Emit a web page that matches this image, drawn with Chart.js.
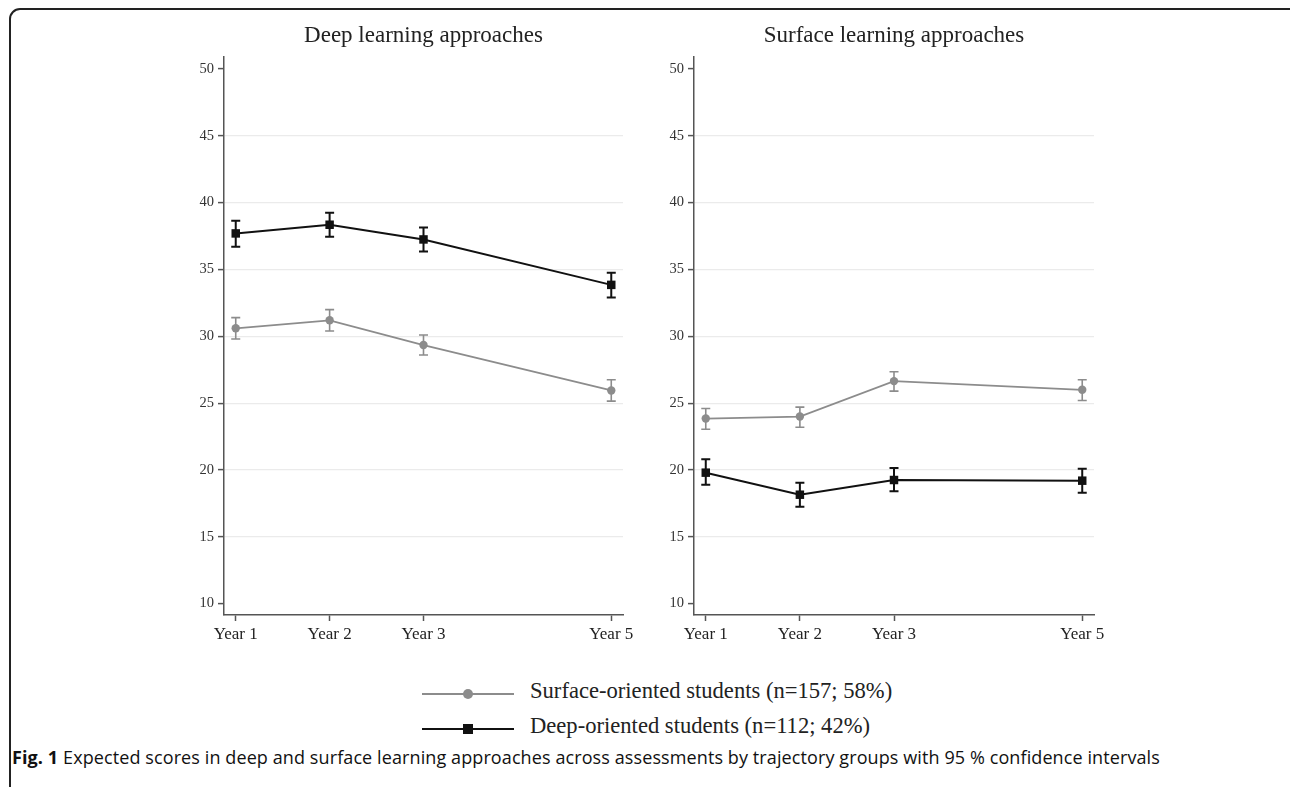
<!DOCTYPE html>
<html>
<head>
<meta charset="utf-8">
<script src="https://cdn.jsdelivr.net/npm/chart.js@4"></script>
<style>
  html, body { margin: 0; padding: 0; background: #fff; width: 1290px; height: 787px; overflow: hidden; }
  .frame { position: absolute; left: 9px; top: 8px; width: 1300px; height: 800px; border: 2px solid #222; border-radius: 11px; box-sizing: border-box; }
  .panel { position: absolute; top: 10px; width: 500px; height: 645px; }
  .legend { position: absolute; left: 422px; font-family: "Liberation Serif", "Times New Roman", serif; font-size: 22.6px; color: #222; }
  .legend .row { position: relative; height: 35px; }
  .legend .ln { position: absolute; left: 0; top: 16px; width: 92px; height: 2px; }
  .legend .mk { position: absolute; }
  .legend .txt { position: absolute; left: 108px; top: 1px; white-space: nowrap; }
  .caption { position: absolute; left: 12px; top: 745px; font-family: "Open Sans", sans-serif; font-size: 18px; letter-spacing: 0.1px; color: #111; white-space: nowrap; }
  .caption b { font-weight: 700; }
</style>
</head>
<body>
<div class="frame"></div>
<div class="panel" style="left:140px"><canvas id="left"></canvas></div>
<div class="panel" style="left:610px"><canvas id="right"></canvas></div>

<div class="legend" style="top:677px">
  <div class="row">
    <div class="ln" style="background:#8c8c8c"></div>
    <div class="mk" style="left:41px;top:12px;width:10px;height:10px;border-radius:50%;background:#8c8c8c"></div>
    <div class="txt">Surface-oriented students (n=157; 58%)</div>
  </div>
  <div class="row">
    <div class="ln" style="background:#111"></div>
    <div class="mk" style="left:41px;top:12px;width:10px;height:10px;background:#111"></div>
    <div class="txt">Deep-oriented students (n=112; 42%)</div>
  </div>
</div>

<div class="caption"><b>Fig. 1</b> Expected scores in deep and surface learning approaches across assessments by trajectory groups with 95 % confidence intervals</div>

<script>
// assessments (x positions) and their labels
const years = [1, 2, 3, 5];
const yearLabels = ['Year 1', 'Year 2', 'Year 3', 'Year 5'];
const yTicks = [10, 15, 20, 25, 30, 35, 40, 45, 50];

// Deep learning approaches panel
const deepSurf = [30.6, 31.2, 29.35, 25.95];
const deepSurfLow = [29.8, 30.4, 28.6, 25.15];
const deepSurfHigh = [31.4, 32.0, 30.1, 26.75];
const deepDeep = [37.7, 38.35, 37.25, 33.85];
const deepDeepLow = [36.7, 37.45, 36.35, 32.9];
const deepDeepHigh = [38.65, 39.25, 38.15, 34.75];

// Surface learning approaches panel
const surfSurf = [23.85, 24.0, 26.65, 26.0];
const surfSurfLow = [23.05, 23.2, 25.9, 25.2];
const surfSurfHigh = [24.6, 24.7, 27.35, 26.75];
const surfDeep = [19.8, 18.15, 19.25, 19.2];
const surfDeepLow = [18.9, 17.25, 18.4, 18.3];
const surfDeepHigh = [20.8, 19.05, 20.15, 20.1];

const GRAY = '#8c8c8c';
const DARK = '#111';
const AXIS = '#555';

// draws the confidence interval whiskers from ciLow / ciHigh
const errorBars = {
    id: 'errorBars',
    beforeDatasetsDraw(chart) {
        const ctx = chart.ctx;
        const xs = chart.scales.x, ys = chart.scales.y;
        chart.data.datasets.forEach(function (ds) {
            ctx.save();
            ctx.strokeStyle = ds.borderColor;
            ctx.lineWidth = ds.barWidth;
            ds.data.forEach(function (p, i) {
                const x = xs.getPixelForValue(p.x);
                const y1 = ys.getPixelForValue(ds.ciLow[i]);
                const y2 = ys.getPixelForValue(ds.ciHigh[i]);
                ctx.beginPath();
                ctx.moveTo(x, y1); ctx.lineTo(x, y2);
                ctx.moveTo(x - 4.5, y1); ctx.lineTo(x + 4.5, y1);
                ctx.moveTo(x - 4.5, y2); ctx.lineTo(x + 4.5, y2);
                ctx.stroke();
            });
            ctx.restore();
        });
    }
};

function points(vals) {
    return vals.map(function (v, i) { return { x: years[i], y: v }; });
}

function makeChart(id, title, surf, surfLow, surfHigh, deep, deepLow, deepHigh, padRight) {
    return new Chart(document.getElementById(id), {
        type: 'line',
        data: {
            datasets: [{
                data: points(surf),
                ciLow: surfLow, ciHigh: surfHigh, barWidth: 1.6,
                borderColor: GRAY, backgroundColor: GRAY,
                borderWidth: 1.8, pointStyle: 'circle', pointRadius: 4.2, pointBorderWidth: 0,
                tension: 0
            }, {
                data: points(deep),
                ciLow: deepLow, ciHigh: deepHigh, barWidth: 2,
                borderColor: DARK, backgroundColor: DARK,
                borderWidth: 2, pointStyle: 'rect', pointRadius: 6, pointBorderWidth: 0,
                tension: 0
            }]
        },
        options: {
            responsive: true,
            maintainAspectRatio: false,
            animation: false,
            layout: { padding: { left: 0, right: padRight, top: 0, bottom: 0 } },
            plugins: {
                legend: { display: false },
                tooltip: { enabled: false },
                title: {
                    display: true,
                    text: title,
                    fullSize: false,
                    color: '#222',
                    font: { family: 'Liberation Serif', size: 23, weight: 'normal', lineHeight: 1.2 },
                    padding: { top: 12, bottom: 7.4 }
                }
            },
            scales: {
                x: {
                    type: 'linear',
                    min: 0.875, max: 5.125,
                    afterBuildTicks: function (scale) {
                        scale.ticks = years.map(function (v) { return { value: v }; });
                    },
                    afterFit: function (scale) { scale.height = 40; },
                    grid: { drawOnChartArea: false, drawTicks: true, tickLength: 6, tickColor: AXIS, tickWidth: 1.5 },
                    border: { display: true, color: AXIS, width: 1.5 },
                    ticks: {
                        autoSkip: false, maxRotation: 0, padding: 3,
                        color: '#222',
                        font: { family: 'Liberation Serif', size: 17 },
                        callback: function (v) { return yearLabels[years.indexOf(v)]; }
                    }
                },
                y: {
                    min: 9.15, max: 50.9,
                    afterBuildTicks: function (scale) {
                        scale.ticks = yTicks.map(function (v) { return { value: v }; });
                    },
                    afterFit: function (scale) { scale.width = 84; },
                    grid: {
                        color: function (c) {
                            const v = c.tick ? c.tick.value : 0;
                            return (v === 10 || v === 50) ? 'rgba(0,0,0,0)' : '#ebebeb';
                        },
                        lineWidth: 1.2,
                        tickLength: 6, tickColor: AXIS, tickWidth: 1.5
                    },
                    border: { display: true, color: AXIS, width: 1.5 },
                    ticks: {
                        padding: 4,
                        color: '#333',
                        font: { family: 'Liberation Serif', size: 14.5 }
                    }
                }
            }
        },
        plugins: [errorBars]
    });
}

makeChart('left', 'Deep learning approaches', deepSurf, deepSurfLow, deepSurfHigh, deepDeep, deepDeepLow, deepDeepHigh, 17);
makeChart('right', 'Surface learning approaches', surfSurf, surfSurfLow, surfSurfHigh, surfDeep, surfDeepLow, surfDeepHigh, 16);
</script>
</body>
</html>
